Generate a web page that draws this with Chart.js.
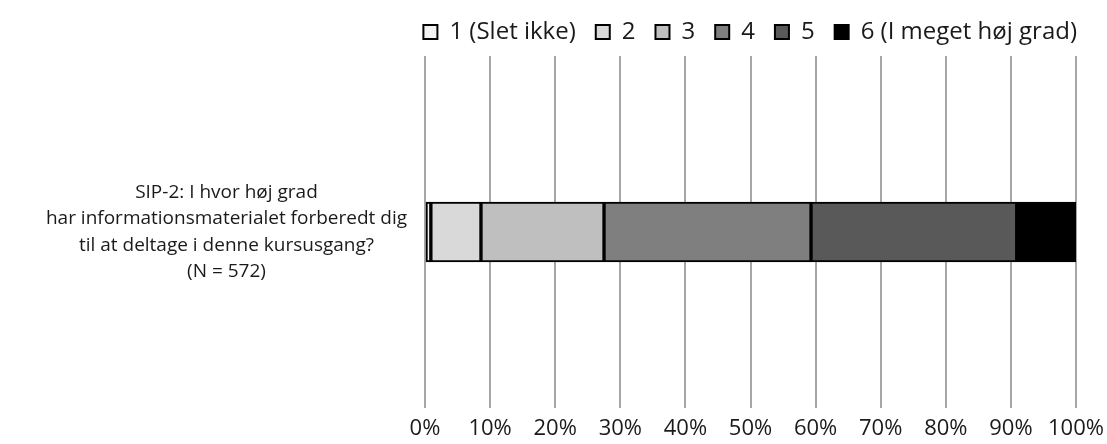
<!DOCTYPE html>
<html>
<head>
<meta charset="utf-8">
<script src="https://cdn.jsdelivr.net/npm/chart.js@4/dist/chart.umd.min.js"></script>
<style>
  html, body { margin: 0; padding: 0; background: #fff; }
  #wrap { width: 1107px; height: 444px; }
</style>
</head>
<body>
<div id="wrap"><canvas id="c" width="1107" height="444"></canvas></div>
<script>
// question label (one category, several lines)
const categories = [[
  "SIP-2: I hvor høj grad",
  "har informationsmaterialet forberedt dig",
  "til at deltage i denne kursusgang?",
  "(N = 572)"
]];

// answer scale
const seriesNames = ["1 (Slet ikke)", "2", "3", "4", "5", "6 (I meget høj grad)"];
// share of answers, percent
const seriesValues = [0.9, 7.7, 18.9, 31.8, 31.6, 9.1];
const seriesColors = ["#f2f2f2", "#d9d9d9", "#bfbfbf", "#7f7f7f", "#595959", "#000000"];

const tickValues = [0, 10, 20, 30, 40, 50, 60, 70, 80, 90, 100];

const font = "'Open Sans', 'Noto Sans', sans-serif";
Chart.defaults.font.family = font;
Chart.defaults.color = "#1a1a1a";

const datasets = seriesNames.map((name, i) => ({
  label: name,
  data: [seriesValues[i]],
  backgroundColor: seriesColors[i],
  borderColor: "#000",
  borderWidth: 2,
  borderSkipped: false,
  barThickness: 60,
}));

// keep the legend band short, like the original
const legendBand = {
  id: "legendBand",
  afterInit(chart) {
    const fit = chart.legend.fit;
    chart.legend.fit = function () {
      fit.call(this);
      this.height = 56;
    };
  },
};

new Chart(document.getElementById("c"), {
  type: "bar",
  data: { labels: categories, datasets },
  plugins: [legendBand],
  options: {
    indexAxis: "y",
    responsive: false,
    animation: false,
    layout: { padding: { left: 0, right: 10, top: 0, bottom: 2 } },
    plugins: {
      legend: {
        position: "top",
        align: "end",
        labels: {
          boxWidth: 14,
          boxHeight: 14,
          padding: 20,
          font: { size: 24 },
        },
      },
      tooltip: { enabled: false },
    },
    scales: {
      x: {
        stacked: true,
        min: 0,
        max: 100,
        afterBuildTicks: (s) => { s.ticks = tickValues.map((v) => ({ value: v })); },
        afterFit: (s) => {
          s.height = 34;
          s.paddingLeft = 0;
          s.paddingRight = 31;
        },
        ticks: {
          callback: (v) => v + "%",
          padding: 8,
          maxRotation: 0,
          font: { size: 22 },
        },
        grid: { color: "#a6a6a6", lineWidth: 2, drawTicks: false },
        border: { display: false },
      },
      y: {
        stacked: true,
        afterFit: (s) => {
          s.width = 425;
          s.paddingTop = 0;
          s.paddingBottom = 0;
        },
        ticks: {
          crossAlign: "center",
          padding: 18,
          font: { size: 19, lineHeight: 1.4 },
        },
        grid: { display: false, drawTicks: false },
        border: { display: false },
      },
    },
  },
});
</script>
</body>
</html>
